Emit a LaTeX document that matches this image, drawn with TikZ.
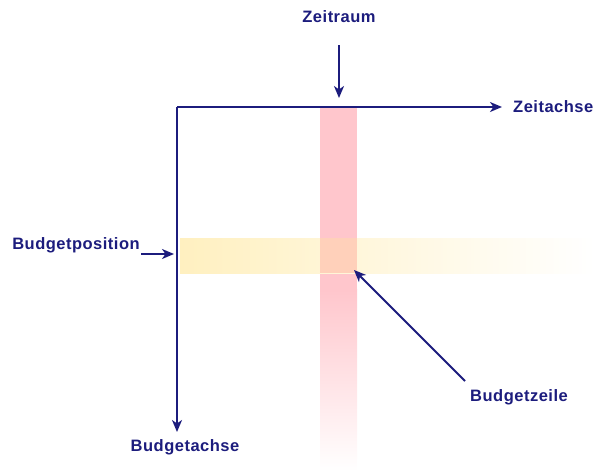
\documentclass[tikz,border=0pt]{standalone}
\usepackage{fontspec}
\setmainfont{Liberation Sans}[LetterSpace=3]
\usetikzlibrary{arrows.meta}
\definecolor{navy}{RGB}{28,28,125}
\definecolor{bandpink}{RGB}{255,198,204}
\definecolor{bandyellow}{RGB}{255,240,192}
\definecolor{bandmix}{RGB}{255,208,186}
\tikzset{
  lbl/.style={font=\fontsize{16.5}{18}\selectfont\bfseries, text=navy, inner sep=0pt},
  conn/.style={draw=navy, line width=1.8pt, -{Stealth[length=12pt,width=10pt,inset=3.5pt]}},
}
\begin{document}
\begin{tikzpicture}[x=1pt,y=-1pt]
\useasboundingbox (0,0) rectangle (595,471);
% bands
\fill[bandpink] (320,108) rectangle (357,290);
\shade[top color=bandpink, bottom color=white] (320,289.5) rectangle (357,471);
\shade[left color=bandyellow, right color=white] (180,238) rectangle (595,273);
\fill[bandmix] (320,238) rectangle (357,273);
% named points
\coordinate (O) at (177,107);
\coordinate (xend) at (502,107);
\coordinate (yend) at (177,432);
\coordinate (zrs) at (339,45);
\coordinate (zre) at (339,98);
\coordinate (bps) at (141,254);
\coordinate (bpe) at (174,254);
\coordinate (bzs) at (465,381);
\coordinate (bze) at (354,270);
% labels
\node[lbl] (zr) at (339,17) {Zeitraum};
\node[lbl, anchor=west] (za) at (513,107) {Zeitachse};
\node[lbl] (bp) at (76,245) {Budgetposition};
\node[lbl] (ba) at (185,447) {Budgetachse};
\node[lbl] (bz) at (519,397) {Budgetzeile};
% axes
\draw[conn] (O) -- (xend);
\draw[conn] (O) -- (yend);
% pointers
\draw[conn] (zrs) -- (zre);
\draw[conn] (bps) -- (bpe);
\draw[conn] (bzs) -- (bze);
\end{tikzpicture}
\end{document}
